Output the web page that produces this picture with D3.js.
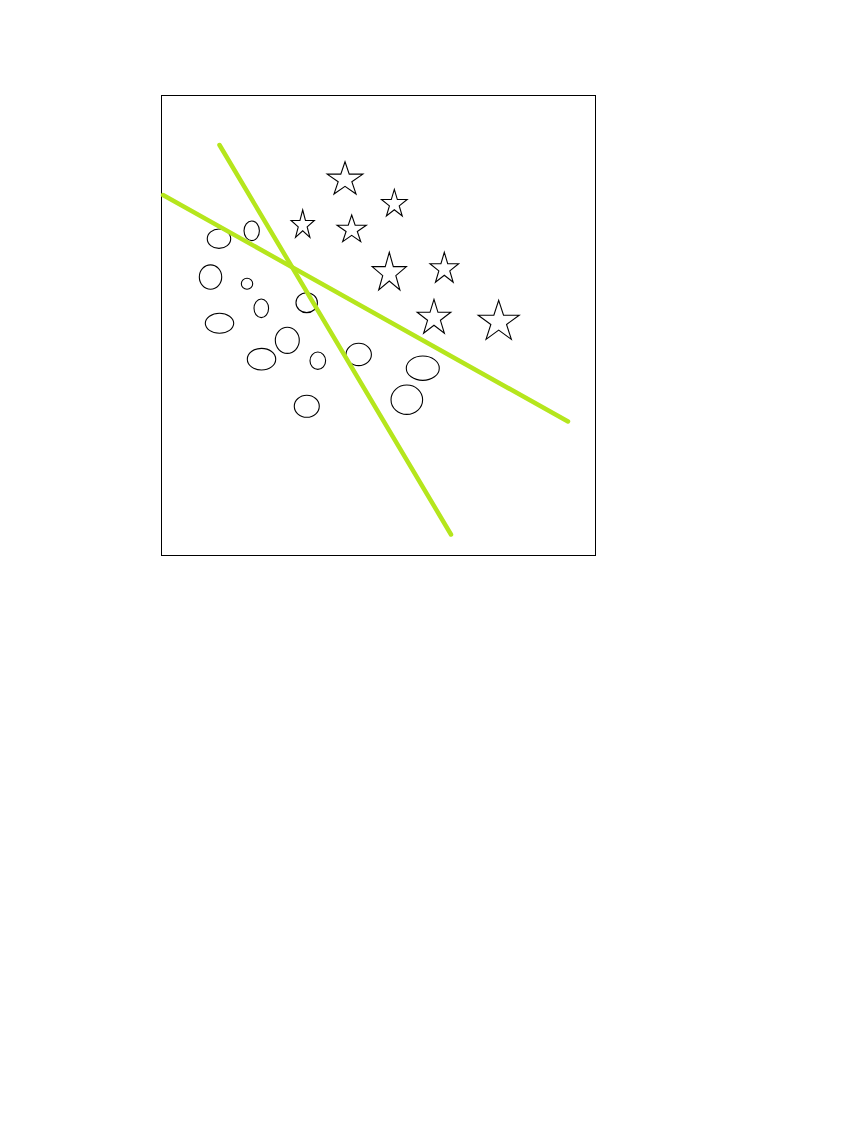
<!DOCTYPE html>
<html>
<head>
<meta charset="utf-8">
<script src="https://cdn.jsdelivr.net/npm/d3@7"></script>
<style>
  html, body { margin: 0; padding: 0; background: #fff; }
  svg { display: block; }
</style>
</head>
<body>
<svg id="chart" width="857" height="1143"></svg>
<script>
// ---- data (plot units, 0..100 on both axes) ----
const ellipseX  = [13.36, 20.90, 11.41, 19.82, 23.11, 33.57, 13.48, 29.10, 23.16, 36.13, 45.55, 60.32, 56.64, 33.59];
const ellipseY  = [68.76, 70.48, 60.43, 58.96, 53.63, 54.85, 50.37, 46.67, 42.57, 42.24, 43.59, 40.61, 33.76, 32.33];
const ellipseRx = [2.70, 1.77, 2.58, 1.31, 1.68, 2.47, 3.27, 2.76, 3.27, 1.80, 2.93, 3.80, 3.64, 2.88];
const ellipseRy = [2.11, 2.13, 2.65, 1.20, 2.02, 2.17, 2.17, 2.83, 2.35, 1.89, 2.43, 2.65, 3.20, 2.39];

const starX = [42.40, 53.76, 43.94, 52.60, 65.28, 62.90, 77.81, 32.65];
const starY = [81.61, 76.28, 70.70, 61.28, 62.20, 51.50, 50.67, 71.72];
const starW = [8.23, 5.92, 6.75, 7.90, 6.61, 7.76, 9.45, 5.37];
const starH = [7.02, 5.80, 5.80, 8.20, 6.52, 7.39, 8.48, 5.93];

const lineX1 = [0.46, 13.48];
const lineY1 = [78.26, 89.13];
const lineX2 = [93.78, 66.82];
const lineY2 = [29.02, 4.46];

// ---- layout ----
const plotLeft = 161, plotTop = 95, plotRight = 595, plotBottom = 555;
const x = d3.scaleLinear().domain([0, 100]).range([plotLeft, plotRight]);
const y = d3.scaleLinear().domain([0, 100]).range([plotBottom, plotTop]);
const dx = v => x(v) - x(0);
const dy = v => y(0) - y(v);

const svg = d3.select("#chart");

svg.append("rect")
  .attr("x", plotLeft + 0.5).attr("y", plotTop + 0.5)
  .attr("width", plotRight - plotLeft).attr("height", plotBottom - plotTop)
  .attr("fill", "none").attr("stroke", "#000").attr("stroke-width", 1);

const ellipses = ellipseX.map((v, i) => ({cx: v, cy: ellipseY[i], rx: ellipseRx[i], ry: ellipseRy[i]}));
svg.append("g").selectAll("ellipse").data(ellipses).join("ellipse")
  .attr("cx", d => x(d.cx)).attr("cy", d => y(d.cy))
  .attr("rx", d => dx(d.rx)).attr("ry", d => dy(d.ry))
  .attr("fill", "none").attr("stroke", "#000").attr("stroke-width", 1.1);

// star path: top point at (cx, topY), w,h = bounding width/height in pixels
function starPath(cx, topY, w, h) {
  const R = h / (1 + Math.cos(Math.PI / 5));
  const kx = w / (2 * R * Math.sin(2 * Math.PI / 5));
  const r = R * 0.382;
  const pts = [];
  for (let i = 0; i < 10; i++) {
    const a = -Math.PI / 2 + i * Math.PI / 5;
    const rad = i % 2 === 0 ? R : r;
    pts.push([cx + kx * rad * Math.cos(a), topY + R + rad * Math.sin(a)]);
  }
  return d3.line()(pts) + "Z";
}
const stars = starX.map((v, i) => ({x: v, y: starY[i], w: starW[i], h: starH[i]}));
svg.append("g").selectAll("path").data(stars).join("path")
  .attr("d", d => {
    const H = dy(d.h);
    const R = H / (1 + Math.cos(Math.PI / 5));
    return starPath(x(d.x), y(d.y) - R, dx(d.w), H);
  })
  .attr("fill", "none").attr("stroke", "#000").attr("stroke-width", 1.1)
  .attr("stroke-linejoin", "miter");

const lines = lineX1.map((v, i) => ({x1: v, y1: lineY1[i], x2: lineX2[i], y2: lineY2[i]}));
svg.append("g").selectAll("line").data(lines).join("line")
  .attr("x1", d => x(d.x1)).attr("y1", d => y(d.y1))
  .attr("x2", d => x(d.x2)).attr("y2", d => y(d.y2))
  .attr("stroke", "#b5e61d").attr("stroke-width", 4.5).attr("stroke-linecap", "round");
</script>
</body>
</html>
